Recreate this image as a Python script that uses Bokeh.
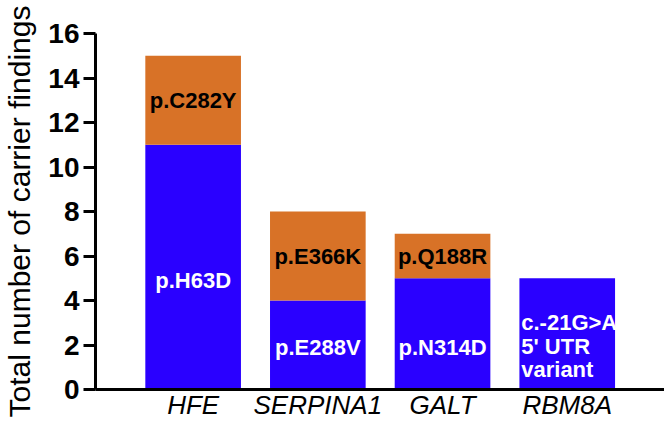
from bokeh.plotting import figure
from bokeh.models import ColumnDataSource, Range1d, FixedTicker
from bokeh.core.properties import value
from bokeh.embed import file_html
from bokeh.resources import INLINE

# ---- data ----
genes = ["HFE", "SERPINA1", "GALT", "RBM8A"]
first_variant = [11, 4, 5, 5]      # blue segment
second_variant = [4, 4, 2, 0]      # orange segment
y_ticks = [0, 2, 4, 6, 8, 10, 12, 14, 16]

label_gene = ["HFE", "HFE", "SERPINA1", "SERPINA1", "GALT", "GALT", "RBM8A", "RBM8A", "RBM8A"]
label_text = ["p.H63D", "p.C282Y", "p.E288V", "p.E366K", "p.N314D", "p.Q188R",
              "c.-21G>A", "5' UTR", "variant"]
label_y = [4.9, 13.0, 1.9, 6.0, 1.9, 6.0, 3.0, 1.95, 0.9]
label_on_blue = [True, False, True, False, True, False, True, True, True]

BLUE = "#2A00FF"
ORANGE = "#D87227"
FONT = "Liberation Sans"

x_idx = list(range(len(genes)))
src = ColumnDataSource(dict(x=x_idx, first=first_variant, second=second_variant))

p = figure(width=664, height=422,
           x_range=Range1d(-0.783, 3.780), y_range=Range1d(0, 16),
           output_backend="svg", toolbar_location=None,
           min_border_left=95, min_border_right=0,
           min_border_top=33, min_border_bottom=29)

p.vbar_stack(["first", "second"], x="x", width=0.767, source=src,
             color=[BLUE, ORANGE], line_color=None)

# labels inside bars
left_aligned = [g == "RBM8A" for g in label_gene]
lsrc = ColumnDataSource(dict(
    x=[genes.index(g) for g in label_gene],
    y=label_y,
    text=label_text,
    color=["white" if b else "black" for b in label_on_blue],
    align=["left" if la else "center" for la in left_aligned],
    xoff=[-46 if la else 0 for la in left_aligned],
))
p.text(x="x", y="y", text="text", source=lsrc, text_color="color",
       text_align="align", x_offset="xoff", text_baseline="middle",
       text_font=value(FONT), text_font_style="bold", text_font_size="22px")

# styling
p.xgrid.visible = False
p.ygrid.visible = False
p.outline_line_color = None
p.background_fill_color = "white"
p.border_fill_color = "white"

ya = p.yaxis[0]
ya.ticker = FixedTicker(ticks=y_ticks)
ya.axis_line_width = 3
ya.major_tick_line_width = 3
ya.major_tick_in = 0
ya.major_tick_out = 12
ya.minor_tick_line_color = None
ya.major_label_text_font = FONT
ya.major_label_text_font_style = "bold"
ya.major_label_text_font_size = "28px"
ya.major_label_text_color = "black"
ya.major_label_standoff = 4
ya.axis_label = "Total number of carrier findings"
ya.axis_label_text_font = FONT
ya.axis_label_text_font_style = "normal"
ya.axis_label_text_font_size = "30px"
ya.axis_label_text_color = "black"
ya.axis_label_standoff = 9

xa = p.xaxis[0]
xa.ticker = FixedTicker(ticks=x_idx)
xa.major_label_overrides = {i: g for i, g in enumerate(genes)}
xa.axis_line_width = 3
xa.major_tick_line_color = None
xa.major_tick_out = 0
xa.major_tick_in = 0
xa.minor_tick_line_color = None
xa.major_label_text_font = FONT
xa.major_label_text_font_style = "italic"
xa.major_label_text_font_size = "26px"
xa.major_label_text_color = "black"
xa.major_label_standoff = 0

open("out.html", "w").write(file_html(p, INLINE))
